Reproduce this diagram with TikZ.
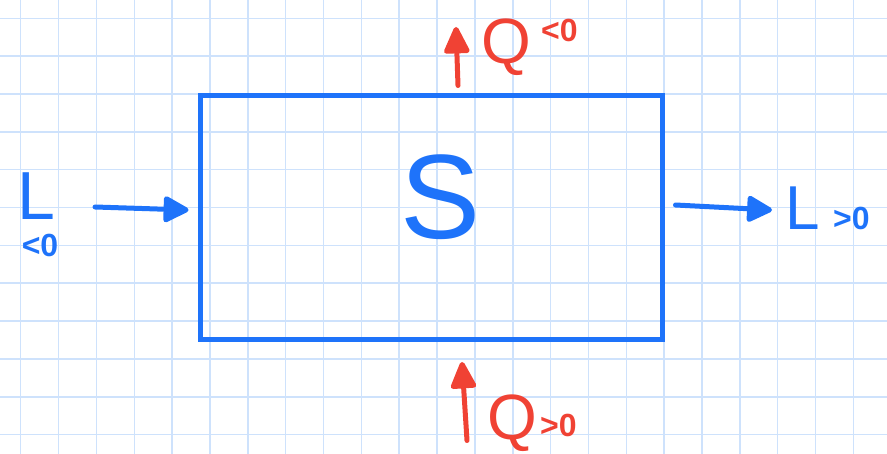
\documentclass[tikz,border=0pt]{standalone}
\usepackage{fontspec}
\setmainfont{Liberation Sans}
\usetikzlibrary{arrows.meta, positioning, calc}

\begin{document}
\begin{tikzpicture}[
    x=1pt, y=-1pt,
    gridline/.style={draw=gridblue, line width=1.5pt},
    sysbox/.style={draw=penblue, line width=5pt, minimum width=462pt, minimum height=244pt, inner sep=0pt},
    workarrow/.style={draw=penblue, line width=5pt, line cap=round, -{Triangle[length=28pt, width=28pt, round]}},
    heatarrow/.style={draw=penred, line width=5pt, line cap=round, -{Triangle[length=30pt, width=27pt, round]}},
    worklabel/.style={text=penblue, inner sep=0pt},
    heatlabel/.style={text=penred, inner sep=0pt},
]

% ===== Colors =====
\definecolor{gridblue}{RGB}{206,226,252}
\definecolor{penblue}{RGB}{30,115,250}
\definecolor{penred}{RGB}{240,66,52}

\useasboundingbox (0,0) rectangle (887,454);

% ===== Squared paper =====
\foreach \i in {0,...,22} {
    \draw[gridline] ({20.7 + 37.85*\i}, 0) -- ({20.7 + 37.85*\i}, 454);
}
\foreach \j in {0,...,11} {
    \draw[gridline] (0, {18.3 + 37.85*\j}) -- (887, {18.3 + 37.85*\j});
}

% ===== System =====
\node[sysbox] (sys) at (431, 218) {};
\node[worklabel, font=\fontsize{120}{122}\selectfont] (slabel) at (441, 197) {S};

% ===== Heat, top (Q<0) =====
\coordinate (qouttip) at (456, 27);
\draw[heatarrow] ($(sys.north) + (27, -8)$) -- (qouttip);
\node[heatlabel, font=\fontsize{64}{66}\selectfont] (qout) at (506, 47) {Q};
\node[heatlabel, font=\bfseries\fontsize{32}{34}\selectfont, anchor=west] (qoutsign) at (541, 30) {<0};

% ===== Heat, bottom (Q>0) =====
\coordinate (qintip) at (462, 362);
\draw[heatarrow] ($(sys.south) + (36, 98)$) -- (qintip);
\node[heatlabel, font=\fontsize{64}{66}\selectfont] (qin) at (512, 423) {Q};
\node[heatlabel, font=\bfseries\fontsize{32}{34}\selectfont, anchor=west] (qinsign) at (540, 425) {>0};

% ===== Work, left (L<0) =====
\node[worklabel, font=\fontsize{68}{70}\selectfont] (lin) at (36, 196) {L};
\node[worklabel, font=\bfseries\fontsize{32}{34}\selectfont] (linsign) at (40, 245) {<0};
\coordinate (linstart) at (95, 207);
\draw[workarrow] (linstart) -- ($(sys.west) + (-9, -8)$);

% ===== Work, right (L>0) =====
\coordinate (loutend) at (772, 210);
\draw[workarrow] ($(sys.east) + (11, -13)$) -- (loutend);
\node[worklabel, font=\fontsize{62}{64}\selectfont] (lout) at (803, 208) {L};
\node[worklabel, font=\bfseries\fontsize{32}{34}\selectfont, anchor=west] (loutsign) at (833, 218) {>0};

\end{tikzpicture}
\end{document}
